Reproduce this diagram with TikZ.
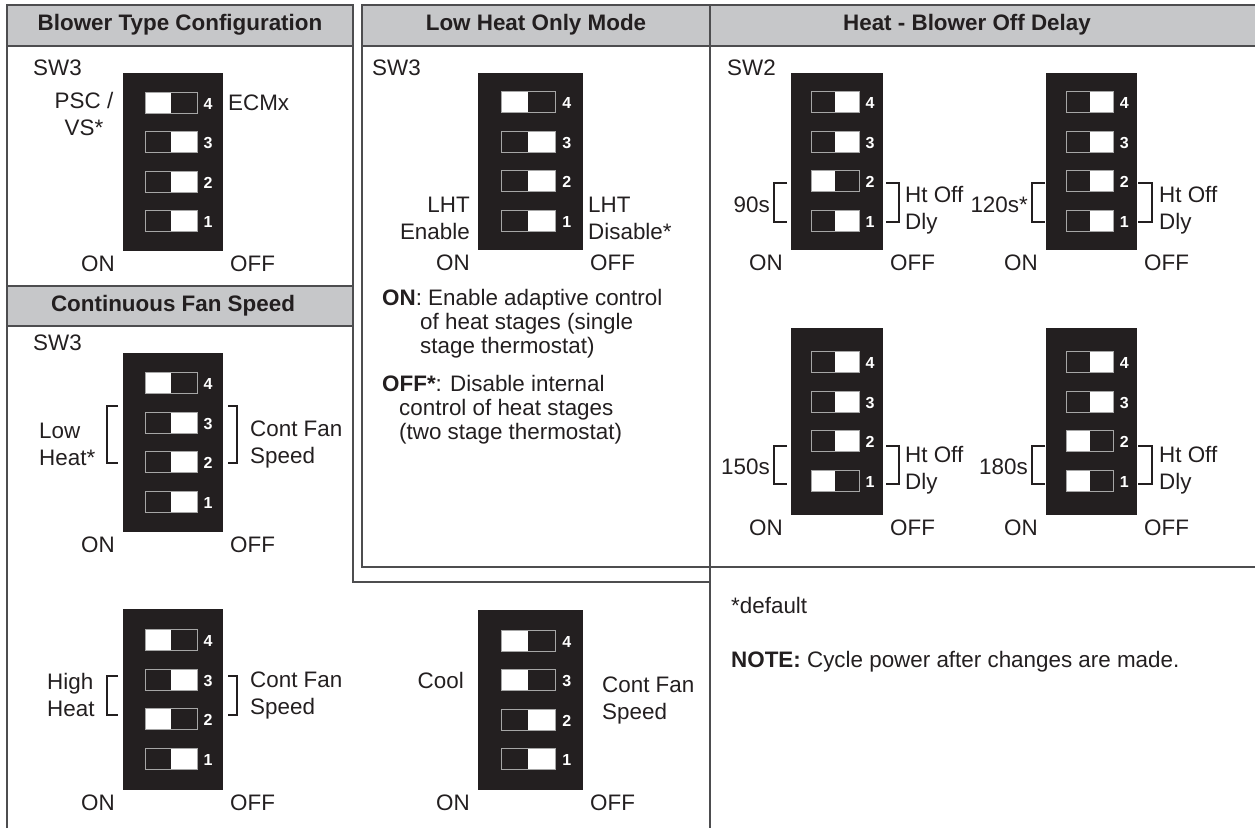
\documentclass[tikz,border=0pt]{standalone}
\usepackage{fontspec}
\setmainfont{Liberation Sans}
\usetikzlibrary{positioning}
\definecolor{dipblack}{HTML}{231F20}
\definecolor{inkblack}{HTML}{231F20}
\definecolor{hdrgray}{HTML}{C6C7C9}
\definecolor{rulegray}{HTML}{4D4D4F}
\tikzset{
  lbl/.style={inner sep=0pt, font=\fontsize{22.4}{27}\selectfont, text=inkblack},
  hdrlbl/.style={inner sep=0pt, font=\fontsize{22.4}{27}\selectfont\bfseries, text=inkblack},
  desc/.style={inner sep=0pt, font=\fontsize{22.4}{24}\selectfont, text=inkblack, align=left},
  dipbody/.style={rectangle, fill=dipblack, inner sep=0pt, outer sep=0pt},
  dipnum/.style={inner sep=0pt, font=\fontsize{16}{16}\selectfont\bfseries, text=white},
  slotedge/.style={draw=gray!70, line width=1pt},
  rule/.style={draw=rulegray, line width=2pt},
  brk/.style={draw=inkblack, line width=1.2pt},
  hdrband/.style={fill=hdrgray},
}
% name, left, top, width, height, slot states 4..1 (1 = white at ON side)
\newcommand{\dipsw}[6]{%
  \node[dipbody, minimum width=#4pt, minimum height=#5pt, anchor=north west] (#1) at (#2,#3) {};
  \foreach \st [count=\i] in {#6} {
    \pgfmathsetmacro{\yc}{#3+#5/2+(\i-2.5)*39.5}
    \pgfmathsetmacro{\xl}{#2+0.22*#4}
    \pgfmathsetmacro{\sw}{0.52*#4}
    \pgfmathtruncatemacro{\n}{5-\i}
    \fill[white] ({\xl},{\yc-10.5}) rectangle ++({\sw},21);
    \fill[dipblack] ({\xl+\st*\sw/2},{\yc-10.5}) rectangle ++({\sw/2},21);
    \draw[slotedge] ({\xl},{\yc-10.5}) rectangle ++({\sw},21);
    \node[dipnum] (#1-\n) at ({\xl+\sw+11},{\yc+1}) {\n};
  }
  \node[lbl, below left=5pt and 8pt of #1.south west] (#1-on) {ON};
  \node[lbl, below right=5pt and 7pt of #1.south east] (#1-off) {OFF};
}

\begin{document}
\begin{tikzpicture}[x=1pt, y=-1pt]
  \useasboundingbox (0,0) rectangle (1255,828);

  % header bands
  \fill[hdrband] (7,5) rectangle (353,46);
  \fill[hdrband] (362,5) rectangle (710,46);
  \fill[hdrband] (710,5) rectangle (1255,46);
  \fill[hdrband] (7,286) rectangle (353,326);

  % panel rules
  \draw[rule] (7,828) -- (7,5) -- (353,5) -- (353,582) -- (710,582);
  \draw[rule] (7,46) -- (353,46) (7,286) -- (353,286) (7,326) -- (353,326);
  \draw[rule] (362,5) rectangle (710,567) (362,46) -- (710,46);
  \draw[rule] (710,5) -- (1255,5) (710,46) -- (1255,46) (710,567) -- (1255,567) (710,5) -- (710,828);

  % headers
  \node[hdrlbl] (hblower) at (180,25) {Blower Type Configuration};
  \node[hdrlbl] (hlowheat) at (536,25) {Low Heat Only Mode};
  \node[hdrlbl] (hdelay) at (967,25) {Heat - Blower Off Delay};
  \node[hdrlbl] (hfan) at (173,306) {Continuous Fan Speed};

  % switches
  \dipsw{blw}{123}{73}{100}{178}{1,0,0,0}
  \dipsw{lowfan}{123}{353}{100}{179}{1,0,0,0}
  \dipsw{lht}{478}{73}{105}{177}{1,0,0,0}
  \dipsw{d90}{791}{73}{92}{177}{0,0,1,0}
  \dipsw{d120}{1046}{73}{91}{177}{0,0,0,0}
  \dipsw{d150}{791}{328}{92}{187}{0,0,0,1}
  \dipsw{d180}{1046}{328}{91}{187}{0,0,1,1}
  \dipsw{highfan}{123}{609}{100}{181}{1,0,1,0}
  \dipsw{coolfan}{478}{610}{105}{180}{1,1,0,0}

  % blower type
  \node[lbl, anchor=west] (blw-sw) at (33,68) {SW3};
  \node[lbl, align=center] (blw-psc) at (84,114) {PSC /\\VS*};
  \node[lbl, anchor=west] (blw-ecm) at (228,103) {ECMx};

  % continuous fan, low heat
  \node[lbl, anchor=west] (lowfan-sw) at (33,343) {SW3};
  \node[lbl, align=left, anchor=west] (lowfan-l) at (39,444) {Low\\Heat*};
  \node[lbl, align=left, anchor=west] (lowfan-r) at (250,444) {Cont Fan\\Speed};
  \draw[brk] (118,406) -| (107,463) -- (118,463);
  \draw[brk] (228,406) -| (237,463) -- (228,463);

  % continuous fan, high heat
  \node[lbl, align=left, anchor=west] (highfan-l) at (47,695) {High\\Heat};
  \node[lbl, align=left, anchor=west] (highfan-r) at (250,695) {Cont Fan\\Speed};
  \draw[brk] (118,676) -| (107,715) -- (118,715);
  \draw[brk] (228,676) -| (237,715) -- (228,715);

  % continuous fan, cool
  \node[lbl, anchor=east] (coolfan-l) at (464,680) {Cool};
  \node[lbl, align=left, anchor=west] (coolfan-r) at (602,700) {Cont Fan\\Speed};

  % low heat only mode
  \node[lbl, anchor=west] (lht-sw) at (372,68) {SW3};
  \node[lbl, align=right, anchor=east] (lht-l) at (470,218) {LHT\\Enable};
  \node[lbl, align=left, anchor=west] (lht-r) at (588,218) {LHT\\Disable*};
  \node[desc, anchor=west] (lht-on) at (382,324)
    {\textbf{ON}: Enable adaptive control\\\hspace*{38pt}of heat stages (single\\\hspace*{38pt}stage thermostat)};
  \node[desc, anchor=west] (lht-off) at (382,410)
    {\textbf{OFF*}: Disable internal\\\hspace*{17pt}control of heat stages\\\hspace*{17pt}(two stage thermostat)};

  % blower off delay
  \node[lbl, anchor=west] (dly-sw) at (727,68) {SW2};
  \node[lbl, anchor=east] (d90-l) at (770,205) {90s};
  \node[lbl, align=left, anchor=west] (d90-r) at (905,210) {Ht Off\\Dly};
  \draw[brk] (787,183) -| (774,222) -- (787,222);
  \draw[brk] (886,183) -| (899,222) -- (886,222);
  \node[lbl, anchor=east] (d120-l) at (1028,205) {120s*};
  \node[lbl, align=left, anchor=west] (d120-r) at (1159,210) {Ht Off\\Dly};
  \draw[brk] (1045,183) -| (1032,222) -- (1045,222);
  \draw[brk] (1138,183) -| (1152,222) -- (1138,222);
  \node[lbl, anchor=east] (d150-l) at (770,467) {150s};
  \node[lbl, align=left, anchor=west] (d150-r) at (905,470) {Ht Off\\Dly};
  \draw[brk] (787,446) -| (774,484) -- (787,484);
  \draw[brk] (886,446) -| (899,484) -- (886,484);
  \node[lbl, anchor=east] (d180-l) at (1028,467) {180s};
  \node[lbl, align=left, anchor=west] (d180-r) at (1159,470) {Ht Off\\Dly};
  \draw[brk] (1045,446) -| (1032,484) -- (1045,484);
  \draw[brk] (1138,446) -| (1152,484) -- (1138,484);

  % notes
  \node[lbl, anchor=west] (dflt) at (731,605) {*default};
  \node[lbl, anchor=west] (note) at (731,662) {\textbf{NOTE:} Cycle power after changes are made.};
\end{tikzpicture}
\end{document}
